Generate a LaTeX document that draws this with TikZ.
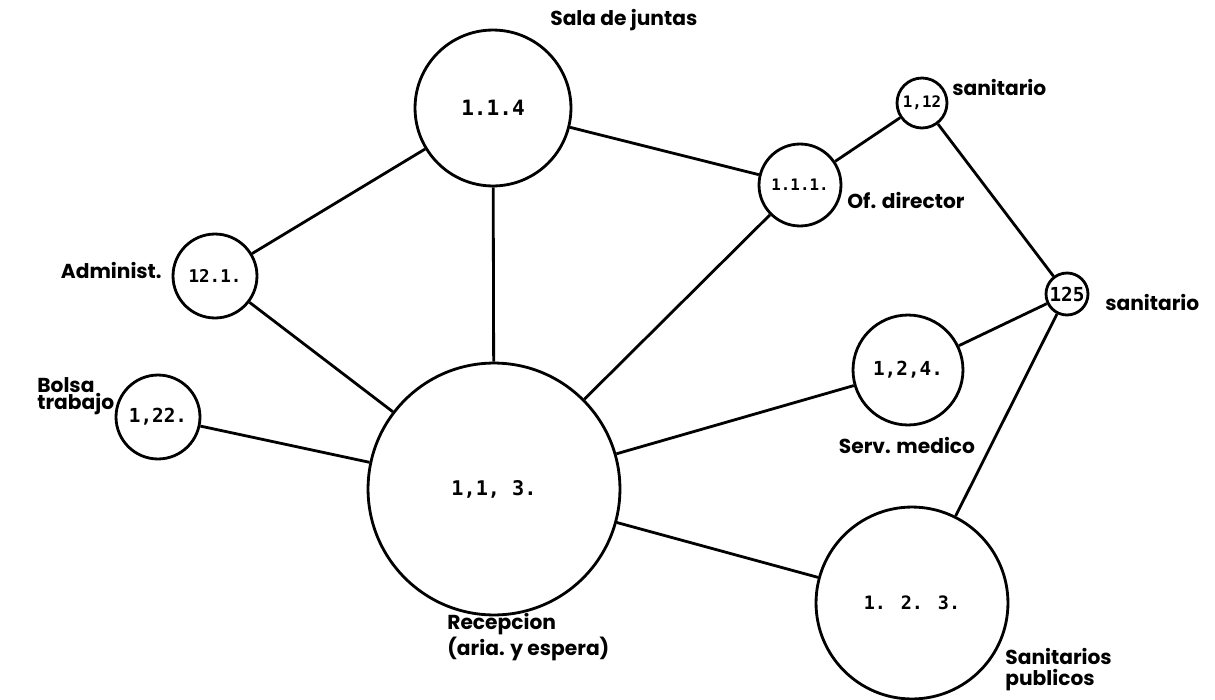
\documentclass[tikz,border=0pt]{standalone}
\usepackage{fontspec}
\setmainfont{Poppins}
\newfontfamily\numfont{DejaVu Sans Mono}
\begin{document}
\begin{tikzpicture}[x=0.02cm,y=-0.02cm,
  room/.style={circle,draw,line width=1.6pt,inner sep=0pt,minimum size=#1*0.04cm},
  num/.style={font=\numfont\bfseries\fontsize{#1}{#1}\selectfont},
  lbl/.style={font=\fontsize{11.5}{12}\selectfont\bfseries,inner sep=0pt,align=left},
  link/.style={line width=1.6pt}]
\useasboundingbox (0,0) rectangle (1215,700);
\node[room=78,num=12]  (n114) at (493,108) {1.1.4};
\node[room=126,num=11.5] (n113) at (494,489) {1,1, 3.};
\node[room=42,num=10]  (n121) at (215,276) {12.1.};
\node[room=42,num=11]  (n122) at (158,417) {1,22.};
\node[room=41,num=9]   (n111) at (800,185) {1.1.1.};
\node[room=25,num=9]   (n112) at (922,103) {1,12};
\node[room=21,num=11]  (n125) at (1067,294) {125};
\node[room=55,num=11]  (n124) at (908,370) {1,2,4.};
\node[room=96,num=10.5]  (n123) at (912,603) {1. 2. 3.};

\node[lbl,anchor=west] (l114) at (550,20) {Sala de juntas};
\node[lbl,anchor=west] (l112) at (952,87) {sanitario};
\node[lbl,anchor=west] (l111) at (847,200) {Of. director};
\node[lbl,anchor=east] (l121) at (162,270) {Administ.};
\node[lbl,anchor=west,font=\fontsize{11.5}{10}\selectfont\bfseries] (l122) at (37,396) {Bolsa\\trabajo};
\node[lbl,anchor=west] (l125) at (1105,302) {sanitario};
\node[lbl] (l124) at (907,445) {Serv. medico};
\node[lbl,anchor=west] (l113) at (447,637) {Recepcion\\(aria. y espera)};
\node[lbl,anchor=west] (l123) at (1005,670) {Sanitarios\\publicos};

\draw[link] (n114) -- (n121);
\draw[link] (n114) -- (n113);
\draw[link] (n114) -- (n111);
\draw[link] (n111) -- (n112);
\draw[link] (n112) -- (n125);
\draw[link] (n111) -- (n113);
\draw[link] (n121) -- (n113);
\draw[link] (n122) -- (n113);
\draw[link] (n124) -- (n113);
\draw[link] (n124) -- (n125);
\draw[link] (n125) -- (n123);
\draw[link] (n113) -- (n123);
\end{tikzpicture}
\end{document}
